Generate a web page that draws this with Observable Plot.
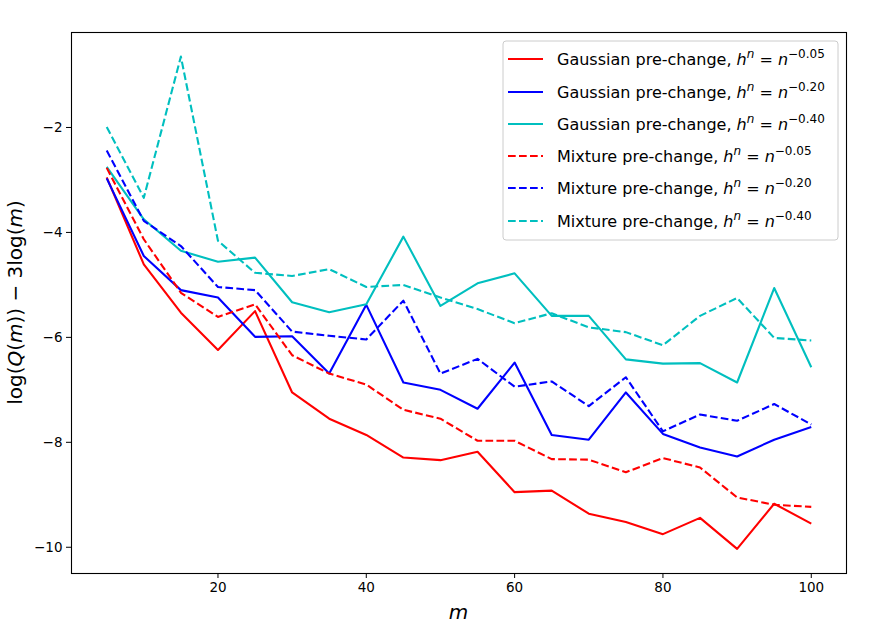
<!DOCTYPE html>
<html><head><meta charset="utf-8">
<script src="https://cdn.jsdelivr.net/npm/d3@7"></script>
<script src="https://cdn.jsdelivr.net/npm/@observablehq/plot@0.6"></script>
<style>body{margin:0;background:#fff;}</style>
</head><body><div id="chart"></div>
<script>
const m = [5,10,15,20,25,30,35,40,45,50,55,60,65,70,75,80,85,90,95,100];
const gaussian005 = [-2.95,-4.61,-5.53,-6.24,-5.50,-7.05,-7.55,-7.86,-8.29,-8.34,-8.18,-8.95,-8.92,-9.36,-9.52,-9.75,-9.44,-10.03,-9.17,-9.55];
const gaussian020 = [-2.97,-4.45,-5.10,-5.24,-5.99,-5.98,-6.69,-5.38,-6.86,-7.00,-7.36,-6.48,-7.86,-7.95,-7.05,-7.84,-8.10,-8.27,-7.95,-7.71];
const gaussian040 = [-2.75,-3.75,-4.35,-4.56,-4.48,-5.33,-5.52,-5.37,-4.08,-5.40,-4.97,-4.78,-5.59,-5.59,-6.42,-6.50,-6.49,-6.86,-5.06,-6.57];
const mixture005 = [-2.77,-4.13,-5.15,-5.61,-5.37,-6.34,-6.69,-6.90,-7.38,-7.55,-7.97,-7.97,-8.32,-8.33,-8.57,-8.30,-8.48,-9.05,-9.19,-9.23];
const mixture020 = [-2.44,-3.78,-4.26,-5.04,-5.10,-5.89,-5.97,-6.04,-5.30,-6.69,-6.41,-6.94,-6.84,-7.31,-6.76,-7.79,-7.47,-7.59,-7.27,-7.66];
const mixture040 = [-1.99,-3.34,-0.65,-4.16,-4.77,-4.83,-4.70,-5.04,-5.00,-5.24,-5.46,-5.73,-5.54,-5.81,-5.90,-6.15,-5.59,-5.25,-6.01,-6.06];
const xTicks = [20,40,60,80,100];
const yTicks = [-10,-8,-6,-4,-2];

const series = [
  {key:"g005", name:"Gaussian pre-change, ", exp:"−0.05", values:gaussian005, color:"#ff0000", dashed:false},
  {key:"g020", name:"Gaussian pre-change, ", exp:"−0.20", values:gaussian020, color:"#0000ff", dashed:false},
  {key:"g040", name:"Gaussian pre-change, ", exp:"−0.40", values:gaussian040, color:"#00bfbf", dashed:false},
  {key:"m005", name:"Mixture pre-change, ", exp:"−0.05", values:mixture005, color:"#ff0000", dashed:true},
  {key:"m020", name:"Mixture pre-change, ", exp:"−0.20", values:mixture020, color:"#0000ff", dashed:true},
  {key:"m040", name:"Mixture pre-change, ", exp:"−0.40", values:mixture040, color:"#00bfbf", dashed:true}
];
const rows = series.flatMap(s => m.map((mv,i) => ({m:mv, v:s.values[i], key:s.key, color:s.color, dashed:s.dashed})));
const dash = "7.7,3.3";

const svg = Plot.plot({
  width: 891, height: 637,
  marginLeft: 71, marginRight: 45, marginTop: 32, marginBottom: 64,
  style: {fontFamily: "DejaVu Sans", fontSize: "13.5px", color: "black", background: "white"},
  x: {domain: [0.25, 104.75], ticks: xTicks, tickSize: 5, tickPadding: 4, label: null},
  y: {domain: [-10.5, -0.19], ticks: yTicks, tickSize: 5, tickPadding: 4, label: null},
  marks: [
    Plot.line(rows.filter(d => !d.dashed), {x: "m", y: "v", z: "key", stroke: "color", strokeWidth: 2.1, strokeLinecap: "butt"}),
    Plot.line(rows.filter(d => d.dashed), {x: "m", y: "v", z: "key", stroke: "color", strokeWidth: 2.1, strokeLinecap: "butt", strokeDasharray: dash}),
    Plot.frame({stroke: "black", strokeWidth: 1.1})
  ]
});

const s = d3.select(svg);
// axis labels
s.append("text").attr("x", 458.5).attr("y", 619).attr("text-anchor", "middle")
  .attr("font-size", 20).attr("font-style", "italic").attr("fill", "black").text("m");
const yl = s.append("text").attr("transform", "translate(22,302.5) rotate(-90)")
  .attr("text-anchor", "middle").attr("font-size", 20).attr("fill", "black").style("white-space", "pre");
yl.append("tspan").text("log(");
yl.append("tspan").attr("font-style", "italic").text("Q");
yl.append("tspan").text("(");
yl.append("tspan").attr("font-style", "italic").text("m");
yl.append("tspan").text(")) − 3log(");
yl.append("tspan").attr("font-style", "italic").text("m");
yl.append("tspan").text(")");

// legend
const lg = s.append("g").attr("text-anchor", "start");
lg.append("rect").attr("x", 503).attr("y", 41).attr("width", 335).attr("height", 199).attr("rx", 3)
  .attr("fill", "white").attr("fill-opacity", 0.8).attr("stroke", "#cccccc");
const rowY = [59, 92, 124, 156, 188, 221];
series.forEach((sr, i) => {
  const y = rowY[i];
  lg.append("line").attr("x1", 508).attr("x2", 543).attr("y1", y).attr("y2", y)
    .attr("stroke", sr.color).attr("stroke-width", 2.1).attr("stroke-linecap", "butt")
    .attr("stroke-dasharray", sr.dashed ? dash : null);
  const t = lg.append("text").attr("x", 557).attr("y", y + 6).attr("text-anchor", "start")
    .attr("font-size", 16).attr("fill", "black").style("white-space", "pre");
  t.append("tspan").text(sr.name);
  t.append("tspan").attr("font-style", "italic").text("h");
  t.append("tspan").attr("font-style", "italic").attr("font-size", 12).attr("dy", -7.5).text("n");
  t.append("tspan").attr("dy", 7.5).text(" = ");
  t.append("tspan").attr("font-style", "italic").text("n");
  t.append("tspan").attr("font-size", 12).attr("dy", -7.5).text(sr.exp);
});

document.getElementById("chart").appendChild(svg);
</script>
</body></html>
